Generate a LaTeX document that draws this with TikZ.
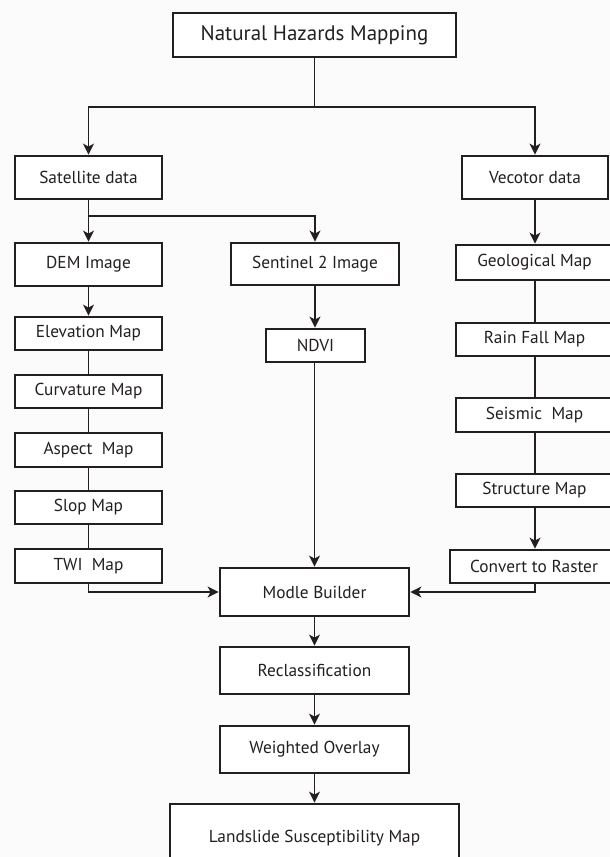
\documentclass[tikz,border=0pt]{standalone}
\usepackage{fontspec}
\setmainfont{PT Sans}
\usetikzlibrary{arrows.meta}
\definecolor{ink}{RGB}{35,31,32}
\definecolor{bg}{RGB}{252,251,251}
\tikzset{
  box/.style={draw=ink, line width=2.8pt, fill=white, inner sep=0pt, text=ink,
    font=\fontsize{17.3}{20}\selectfont},
  conn/.style={draw=ink, line width=1.4pt},
  arr/.style={conn, -{Stealth[length=11pt,width=11pt,inset=3pt]}},
}
\newcommand{\bx}[7]{% name, x1, x2, y1, y2, text, extra
  \node[box, #7, minimum width={#3-#2}, minimum height={#5-#4}] (#1) at ({(#2+#3)/2},{(#4+#5)/2}) {#6};}
\begin{document}
\begin{tikzpicture}[x=1pt,y=-1pt]
\useasboundingbox (0,0) rectangle (610,857);
\clip (0,0) rectangle (610,857);
\fill[bg] (0,0) rectangle (610,857);

\bx{nhm}{173}{456}{13}{57}{Natural Hazards Mapping}{font=\fontsize{21}{25}\selectfont}
\bx{sat}{15}{162}{156}{199}{Satellite data}{}
\bx{vec}{462}{608}{156}{199}{Vecotor data}{}
\bx{dem}{15}{162}{243}{286}{DEM Image}{}
\bx{sen}{231}{399}{243}{285}{Sentinel 2 Image}{}
\bx{elev}{15}{162}{317}{350}{Elevation Map}{}
\bx{ndvi}{266}{365}{329}{362}{NDVI}{}
\bx{curv}{15}{162}{375}{408}{Curvature Map}{}
\bx{asp}{15}{162}{433}{467}{Aspect\ \ Map}{}
\bx{slop}{15}{162}{491}{524}{Slop Map}{}
\bx{twi}{15}{162}{549}{583}{TWI\ \ Map}{}
\bx{geo}{456}{613}{245}{280}{Geological Map}{}
\bx{rain}{456}{613}{323}{356}{Rain Fall Map}{}
\bx{seis}{456}{613}{398}{432}{Seismic\ \ Map}{}
\bx{stru}{456}{613}{474}{507}{Structure Map}{}
\bx{conv}{450}{618}{550}{583}{Convert to Raster}{}
\bx{modle}{220}{409}{568}{616}{Modle Builder}{}
\bx{recl}{220}{409}{647}{694}{Reclassification}{}
\bx{wo}{220}{409}{726}{773}{Weighted Overlay}{}
\bx{land}{170}{459}{804}{872}{Landslide Susceptibility Map}{}

\coordinate (split) at (nhm.south |- 0,107);
\coordinate (branch) at (sat.south |- 0,216);

\draw[conn] (nhm.south) -- (split);
\draw[arr] (split) -| (sat.north);
\draw[arr] (split) -| (vec.north);
\draw[arr] (sat.south) -- (dem.north);
\draw[arr] (branch) -| (sen.north);
\draw[arr] (dem.south) -- (elev.north);
\draw[conn] (elev.south) -- (curv.north);
\draw[conn] (curv.south) -- (asp.north);
\draw[conn] (asp.south) -- (slop.north);
\draw[conn] (slop.south) -- (twi.north);
\draw[arr] (sen.south) -- (ndvi.north -| sen.south);
\draw[arr] (ndvi.south -| modle.north) -- (modle.north);
\draw[arr] (twi.south) |- (modle.west);
\draw[arr] (vec.south) -- (geo.north -| vec.south);
\draw[conn] (geo.south -| vec.south) -- (rain.north -| vec.south);
\draw[conn] (rain.south -| vec.south) -- (seis.north -| vec.south);
\draw[conn] (seis.south -| vec.south) -- (stru.north -| vec.south);
\draw[arr] (stru.south -| vec.south) -- (conv.north -| vec.south);
\draw[arr] (conv.south -| vec.south) |- (modle.east);
\draw[arr] (modle.south) -- (recl.north);
\draw[arr] (recl.south) -- (wo.north);
\draw[arr] (wo.south) -- (land.north -| wo.south);
\end{tikzpicture}
\end{document}
